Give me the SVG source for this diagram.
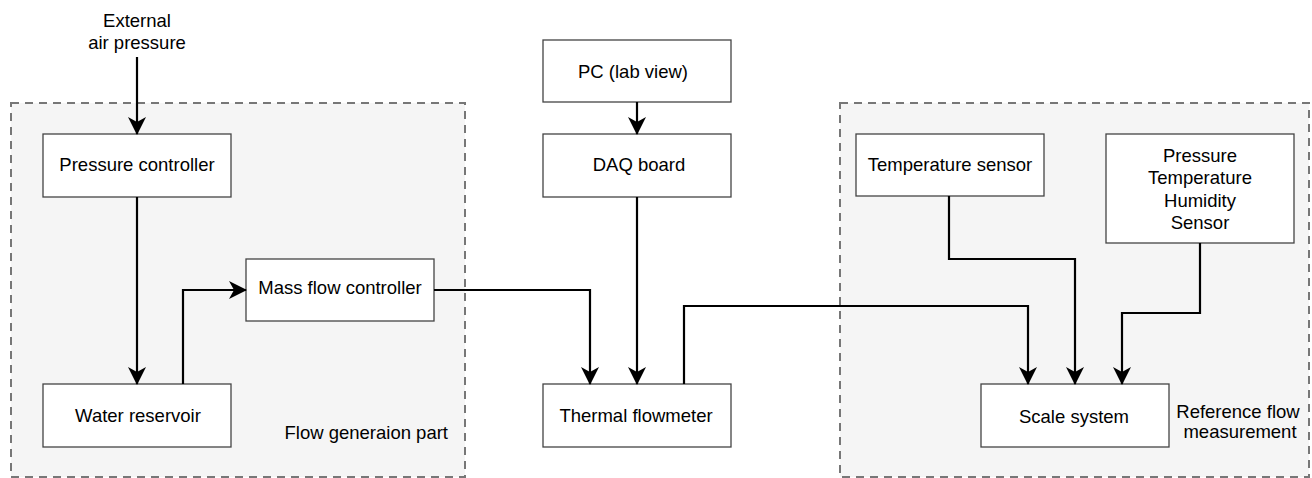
<svg xmlns="http://www.w3.org/2000/svg" width="1312" height="478" viewBox="0 0 1312 478">
<style>
.grp{fill:#f5f5f5;stroke:#777;stroke-width:2;stroke-dasharray:8 6}
.box{fill:#fff;stroke:#444;stroke-width:1.3}
.t{font-family:"Liberation Sans",Arial,Helvetica,sans-serif;font-size:18.5px;fill:#000;text-anchor:middle}
.e{text-anchor:end}
.c{fill:none;stroke:#000;stroke-width:2.2;marker-end:url(#ah)}
</style>
<defs>
<marker id="ah" markerUnits="userSpaceOnUse" viewBox="0 0 18 18" refX="17" refY="9" markerWidth="18" markerHeight="18" orient="auto">
<path d="M0,0 L18,9 L0,18 L5,9 Z" fill="#000"/>
</marker>
</defs>
<rect width="1312" height="478" fill="#fff"/>
<g id="flow-generation-part">
<rect class="grp" x="11" y="103" width="454" height="374"/>
<text class="t e" x="448" y="439">Flow generaion part</text>
</g>
<g id="reference-flow-measurement">
<rect class="grp" x="840" y="103" width="469" height="374"/>
<text class="t" x="1238" y="418">Reference flow</text>
<text class="t" x="1240" y="438">measurement</text>
</g>
<g id="external-air-pressure">
<text class="t" x="137" y="27">External</text>
<text class="t" x="137" y="49">air pressure</text>
</g>
<g id="pressure-controller">
<rect class="box" x="43" y="134" width="188" height="63"/>
<text class="t" x="137" y="171">Pressure controller</text>
</g>
<g id="water-reservoir">
<rect class="box" x="43" y="384" width="188" height="63"/>
<text class="t" x="138" y="422">Water reservoir</text>
</g>
<g id="mass-flow-controller">
<rect class="box" x="246" y="259" width="188" height="62"/>
<text class="t" x="340" y="294">Mass flow controller</text>
</g>
<g id="pc-lab-view">
<rect class="box" x="543" y="40" width="188" height="62"/>
<text class="t" x="633" y="78">PC (lab view)</text>
</g>
<g id="daq-board">
<rect class="box" x="543" y="134" width="188" height="63"/>
<text class="t" x="639" y="171">DAQ board</text>
</g>
<g id="thermal-flowmeter">
<rect class="box" x="543" y="384" width="188" height="63"/>
<text class="t" x="636" y="422">Thermal flowmeter</text>
</g>
<g id="temperature-sensor">
<rect class="box" x="856" y="134" width="188" height="62"/>
<text class="t" x="950" y="171">Temperature sensor</text>
</g>
<g id="pth-sensor">
<rect class="box" x="1106" y="134" width="188" height="109"/>
<text class="t" x="1200" y="162">Pressure</text>
<text class="t" x="1200" y="184">Temperature</text>
<text class="t" x="1200" y="207">Humidity</text>
<text class="t" x="1200" y="229">Sensor</text>
</g>
<g id="scale-system">
<rect class="box" x="981" y="384" width="188" height="63"/>
<text class="t" x="1074" y="423">Scale system</text>
</g>
<g id="connectors">
<path class="c" d="M137,57 V134"/>
<path class="c" d="M137,197 V384"/>
<path class="c" d="M183,384 V290 H246"/>
<path class="c" d="M434,290 H590 V384"/>
<path class="c" d="M637,102 V134"/>
<path class="c" d="M637,197 V384"/>
<path class="c" d="M684,384 V306 H1028 V384"/>
<path class="c" d="M949,196 V259 H1075 V384"/>
<path class="c" d="M1200,243 V313 H1122 V384"/>
</g>
</svg>
